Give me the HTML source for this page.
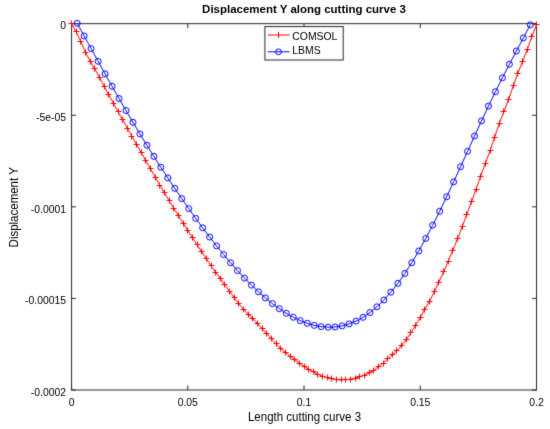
<!DOCTYPE html>
<html><head><meta charset="utf-8"><style>
html,body{margin:0;padding:0;background:#fff;}
body{width:550px;height:429px;overflow:hidden;}
svg{display:block;font-family:"Liberation Sans",sans-serif;font-size:10.4px;}
</style></head><body>
<svg width="550" height="429" viewBox="0 0 550 429">
<defs>
<filter id="bl" x="0" y="0" width="550" height="429" filterUnits="userSpaceOnUse" color-interpolation-filters="sRGB"><feConvolveMatrix order="3" kernelMatrix="1 6 1 6 36 6 1 6 1" divisor="64" edgeMode="duplicate" preserveAlpha="false"/></filter>
<filter id="tb" x="0" y="0" width="550" height="429" filterUnits="userSpaceOnUse" color-interpolation-filters="sRGB"><feConvolveMatrix order="3" kernelMatrix="1 10 1 10 100 10 1 10 1" divisor="144" edgeMode="duplicate" preserveAlpha="false"/></filter>
</defs>
<rect width="550" height="429" fill="#fff"/>
<g filter="url(#bl)">
<rect x="71.56" y="23.65" width="464.94" height="366.35" fill="none" stroke="#262626" stroke-width="1"/>
<path d="M71.56 390V385.5M71.56 23.65V28.15M187.8 390V385.5M187.8 23.65V28.15M304.03 390V385.5M304.03 23.65V28.15M420.26 390V385.5M420.26 23.65V28.15M536.5 390V385.5M536.5 23.65V28.15M71.56 23.65H76.06M536.5 23.65H532M71.56 115.24H76.06M536.5 115.24H532M71.56 206.82H76.06M536.5 206.82H532M71.56 298.41H76.06M536.5 298.41H532M71.56 390H76.06M536.5 390H532" stroke="#262626" stroke-width="1" fill="none"/>
<polyline points="71.5,23.65 76.15,31.88 80.8,41.42 85.45,52.34 90.1,61.11 94.75,68.9 99.4,77.32 104.05,86.08 108.7,94.71 113.35,103.19 118,111.57 122.65,119.87 127.3,128.12 131.95,136.32 136.6,144.51 141.25,152.68 145.9,160.84 150.55,168.97 155.2,177.06 159.85,185.08 164.5,192.99 169.15,200.74 173.8,208.34 178.45,215.79 183.1,223.1 187.75,230.33 192.4,237.51 197.05,244.7 201.7,251.85 206.35,258.91 211,265.75 215.65,272.31 220.3,278.66 224.95,284.99 229.6,291.4 234.25,297.76 238.9,303.76 243.55,309.19 248.2,314.11 252.85,318.82 257.5,323.62 262.15,328.58 266.8,333.6 271.45,338.65 276.1,343.79 280.75,348.43 285.4,352.42 290.05,356.12 294.7,359.66 299.35,363.05 304,366.26 308.65,369.23 313.3,371.91 317.95,374.26 322.6,376.23 327.25,377.79 331.9,378.94 336.55,379.65 341.2,379.92 345.85,379.76 350.5,379.17 355.15,378.17 359.8,376.79 364.45,375.06 369.1,372.94 373.75,370.32 378.4,366.99 383.05,363.03 387.7,358.97 392.35,354.94 397,350.53 401.65,345.46 406.3,339.56 410.95,332.81 415.6,325.32 420.25,317.35 424.9,309.22 429.55,301.08 434.2,291.98 438.85,282.1 443.5,271.95 448.15,261.39 452.8,250.38 457.45,238.89 462.1,226.94 466.75,214.59 471.4,201.91 476.05,189.03 480.7,176.12 485.35,163.37 490,150.86 494.65,137.07 499.3,123.36 503.95,111.65 508.6,99.4 513.25,85.97 517.9,73.18 522.55,61.43 527.2,49.58 531.85,36.88 536.5,24.6" fill="none" stroke="#ff0000" stroke-width="1"/>
<path d="M68.5 23.5h6M71.5 20.5v6M73.5 31.5h6M76.5 28.5v6M77.5 41.5h6M80.5 38.5v6M82.5 52.5h6M85.5 49.5v6M87.5 61.5h6M90.5 58.5v6M91.5 68.5h6M94.5 65.5v6M96.5 77.5h6M99.5 74.5v6M101.5 86.5h6M104.5 83.5v6M105.5 94.5h6M108.5 91.5v6M110.5 103.5h6M113.5 100.5v6M115.5 111.5h6M118.5 108.5v6M119.5 119.5h6M122.5 116.5v6M124.5 128.5h6M127.5 125.5v6M128.5 136.5h6M131.5 133.5v6M133.5 144.5h6M136.5 141.5v6M138.5 152.5h6M141.5 149.5v6M142.5 160.5h6M145.5 157.5v6M147.5 168.5h6M150.5 165.5v6M152.5 177.5h6M155.5 174.5v6M156.5 185.5h6M159.5 182.5v6M161.5 192.5h6M164.5 189.5v6M166.5 200.5h6M169.5 197.5v6M170.5 208.5h6M173.5 205.5v6M175.5 215.5h6M178.5 212.5v6M180.5 223.5h6M183.5 220.5v6M184.5 230.5h6M187.5 227.5v6M189.5 237.5h6M192.5 234.5v6M194.5 244.5h6M197.5 241.5v6M198.5 251.5h6M201.5 248.5v6M203.5 258.5h6M206.5 255.5v6M208.5 265.5h6M211.5 262.5v6M212.5 272.5h6M215.5 269.5v6M217.5 278.5h6M220.5 275.5v6M221.5 284.5h6M224.5 281.5v6M226.5 291.5h6M229.5 288.5v6M231.5 297.5h6M234.5 294.5v6M235.5 303.5h6M238.5 300.5v6M240.5 309.5h6M243.5 306.5v6M245.5 314.5h6M248.5 311.5v6M249.5 318.5h6M252.5 315.5v6M254.5 323.5h6M257.5 320.5v6M259.5 328.5h6M262.5 325.5v6M263.5 333.5h6M266.5 330.5v6M268.5 338.5h6M271.5 335.5v6M273.5 343.5h6M276.5 340.5v6M277.5 348.5h6M280.5 345.5v6M282.5 352.5h6M285.5 349.5v6M287.5 356.5h6M290.5 353.5v6M291.5 359.5h6M294.5 356.5v6M296.5 363.5h6M299.5 360.5v6M301.5 366.5h6M304.5 363.5v6M305.5 369.5h6M308.5 366.5v6M310.5 371.5h6M313.5 368.5v6M314.5 374.5h6M317.5 371.5v6M319.5 376.5h6M322.5 373.5v6M324.5 377.5h6M327.5 374.5v6M328.5 378.5h6M331.5 375.5v6M333.5 379.5h6M336.5 376.5v6M338.5 379.5h6M341.5 376.5v6M342.5 379.5h6M345.5 376.5v6M347.5 379.5h6M350.5 376.5v6M352.5 378.5h6M355.5 375.5v6M356.5 376.5h6M359.5 373.5v6M361.5 375.5h6M364.5 372.5v6M366.5 372.5h6M369.5 369.5v6M370.5 370.5h6M373.5 367.5v6M375.5 366.5h6M378.5 363.5v6M380.5 363.5h6M383.5 360.5v6M384.5 358.5h6M387.5 355.5v6M389.5 354.5h6M392.5 351.5v6M393.5 350.5h6M396.5 347.5v6M398.5 345.5h6M401.5 342.5v6M403.5 339.5h6M406.5 336.5v6M407.5 332.5h6M410.5 329.5v6M412.5 325.5h6M415.5 322.5v6M417.5 317.5h6M420.5 314.5v6M421.5 309.5h6M424.5 306.5v6M426.5 301.5h6M429.5 298.5v6M431.5 291.5h6M434.5 288.5v6M435.5 282.5h6M438.5 279.5v6M440.5 271.5h6M443.5 268.5v6M445.5 261.5h6M448.5 258.5v6M449.5 250.5h6M452.5 247.5v6M454.5 238.5h6M457.5 235.5v6M459.5 226.5h6M462.5 223.5v6M463.5 214.5h6M466.5 211.5v6M468.5 201.5h6M471.5 198.5v6M473.5 189.5h6M476.5 186.5v6M477.5 176.5h6M480.5 173.5v6M482.5 163.5h6M485.5 160.5v6M487.5 150.5h6M490.5 147.5v6M491.5 137.5h6M494.5 134.5v6M496.5 123.5h6M499.5 120.5v6M500.5 111.5h6M503.5 108.5v6M505.5 99.5h6M508.5 96.5v6M510.5 85.5h6M513.5 82.5v6M514.5 73.5h6M517.5 70.5v6M519.5 61.5h6M522.5 58.5v6M524.5 49.5h6M527.5 46.5v6M528.5 36.5h6M531.5 33.5v6M533.5 24.5h6M536.5 21.5v6" fill="none" stroke="#ff0000" stroke-width="1"/>
<polyline points="77.2,23.3 84.17,35.96 91.14,48.66 98.11,61.31 105.08,73.87 112.05,86.29 119.02,98.52 126,110.54 132.97,122.34 139.94,133.9 146.91,145.24 153.88,156.35 160.85,167.24 167.82,177.92 174.79,188.38 181.76,198.61 188.73,208.61 195.7,218.36 202.67,227.84 209.64,237.05 216.62,245.95 223.59,254.52 230.56,262.75 237.53,270.62 244.5,278.09 251.47,285.15 258.44,291.77 265.41,297.92 272.38,303.57 279.35,308.69 286.32,313.27 293.29,317.25 300.26,320.62 307.24,323.33 314.21,325.36 321.18,326.66 328.15,327.21 335.12,326.97 342.09,325.9 349.06,323.96 356.03,321.12 363,317.34 369.97,312.58 376.94,306.8 383.91,300 390.88,292.17 397.86,283.32 404.83,273.48 411.8,262.69 418.77,250.99 425.74,238.46 432.71,225.19 439.68,211.26 446.65,196.78 453.62,181.87 460.59,166.68 467.56,151.34 474.53,136.02 481.5,120.9 488.48,106.1 495.45,91.73 502.42,77.79 509.39,64.26 516.36,51.02 523.33,37.91 530.3,24.8" fill="none" stroke="#0000ff" stroke-width="1"/>
<path d="M74.2 23.3a3.0 3.0 0 1 0 6 0a3.0 3.0 0 1 0 -6 0M81.17 35.96a3.0 3.0 0 1 0 6 0a3.0 3.0 0 1 0 -6 0M88.14 48.66a3.0 3.0 0 1 0 6 0a3.0 3.0 0 1 0 -6 0M95.11 61.31a3.0 3.0 0 1 0 6 0a3.0 3.0 0 1 0 -6 0M102.08 73.87a3.0 3.0 0 1 0 6 0a3.0 3.0 0 1 0 -6 0M109.05 86.29a3.0 3.0 0 1 0 6 0a3.0 3.0 0 1 0 -6 0M116.02 98.52a3.0 3.0 0 1 0 6 0a3.0 3.0 0 1 0 -6 0M123 110.54a3.0 3.0 0 1 0 6 0a3.0 3.0 0 1 0 -6 0M129.97 122.34a3.0 3.0 0 1 0 6 0a3.0 3.0 0 1 0 -6 0M136.94 133.9a3.0 3.0 0 1 0 6 0a3.0 3.0 0 1 0 -6 0M143.91 145.24a3.0 3.0 0 1 0 6 0a3.0 3.0 0 1 0 -6 0M150.88 156.35a3.0 3.0 0 1 0 6 0a3.0 3.0 0 1 0 -6 0M157.85 167.24a3.0 3.0 0 1 0 6 0a3.0 3.0 0 1 0 -6 0M164.82 177.92a3.0 3.0 0 1 0 6 0a3.0 3.0 0 1 0 -6 0M171.79 188.38a3.0 3.0 0 1 0 6 0a3.0 3.0 0 1 0 -6 0M178.76 198.61a3.0 3.0 0 1 0 6 0a3.0 3.0 0 1 0 -6 0M185.73 208.61a3.0 3.0 0 1 0 6 0a3.0 3.0 0 1 0 -6 0M192.7 218.36a3.0 3.0 0 1 0 6 0a3.0 3.0 0 1 0 -6 0M199.67 227.84a3.0 3.0 0 1 0 6 0a3.0 3.0 0 1 0 -6 0M206.64 237.05a3.0 3.0 0 1 0 6 0a3.0 3.0 0 1 0 -6 0M213.62 245.95a3.0 3.0 0 1 0 6 0a3.0 3.0 0 1 0 -6 0M220.59 254.52a3.0 3.0 0 1 0 6 0a3.0 3.0 0 1 0 -6 0M227.56 262.75a3.0 3.0 0 1 0 6 0a3.0 3.0 0 1 0 -6 0M234.53 270.62a3.0 3.0 0 1 0 6 0a3.0 3.0 0 1 0 -6 0M241.5 278.09a3.0 3.0 0 1 0 6 0a3.0 3.0 0 1 0 -6 0M248.47 285.15a3.0 3.0 0 1 0 6 0a3.0 3.0 0 1 0 -6 0M255.44 291.77a3.0 3.0 0 1 0 6 0a3.0 3.0 0 1 0 -6 0M262.41 297.92a3.0 3.0 0 1 0 6 0a3.0 3.0 0 1 0 -6 0M269.38 303.57a3.0 3.0 0 1 0 6 0a3.0 3.0 0 1 0 -6 0M276.35 308.69a3.0 3.0 0 1 0 6 0a3.0 3.0 0 1 0 -6 0M283.32 313.27a3.0 3.0 0 1 0 6 0a3.0 3.0 0 1 0 -6 0M290.29 317.25a3.0 3.0 0 1 0 6 0a3.0 3.0 0 1 0 -6 0M297.26 320.62a3.0 3.0 0 1 0 6 0a3.0 3.0 0 1 0 -6 0M304.24 323.33a3.0 3.0 0 1 0 6 0a3.0 3.0 0 1 0 -6 0M311.21 325.36a3.0 3.0 0 1 0 6 0a3.0 3.0 0 1 0 -6 0M318.18 326.66a3.0 3.0 0 1 0 6 0a3.0 3.0 0 1 0 -6 0M325.15 327.21a3.0 3.0 0 1 0 6 0a3.0 3.0 0 1 0 -6 0M332.12 326.97a3.0 3.0 0 1 0 6 0a3.0 3.0 0 1 0 -6 0M339.09 325.9a3.0 3.0 0 1 0 6 0a3.0 3.0 0 1 0 -6 0M346.06 323.96a3.0 3.0 0 1 0 6 0a3.0 3.0 0 1 0 -6 0M353.03 321.12a3.0 3.0 0 1 0 6 0a3.0 3.0 0 1 0 -6 0M360 317.34a3.0 3.0 0 1 0 6 0a3.0 3.0 0 1 0 -6 0M366.97 312.58a3.0 3.0 0 1 0 6 0a3.0 3.0 0 1 0 -6 0M373.94 306.8a3.0 3.0 0 1 0 6 0a3.0 3.0 0 1 0 -6 0M380.91 300a3.0 3.0 0 1 0 6 0a3.0 3.0 0 1 0 -6 0M387.88 292.17a3.0 3.0 0 1 0 6 0a3.0 3.0 0 1 0 -6 0M394.86 283.32a3.0 3.0 0 1 0 6 0a3.0 3.0 0 1 0 -6 0M401.83 273.48a3.0 3.0 0 1 0 6 0a3.0 3.0 0 1 0 -6 0M408.8 262.69a3.0 3.0 0 1 0 6 0a3.0 3.0 0 1 0 -6 0M415.77 250.99a3.0 3.0 0 1 0 6 0a3.0 3.0 0 1 0 -6 0M422.74 238.46a3.0 3.0 0 1 0 6 0a3.0 3.0 0 1 0 -6 0M429.71 225.19a3.0 3.0 0 1 0 6 0a3.0 3.0 0 1 0 -6 0M436.68 211.26a3.0 3.0 0 1 0 6 0a3.0 3.0 0 1 0 -6 0M443.65 196.78a3.0 3.0 0 1 0 6 0a3.0 3.0 0 1 0 -6 0M450.62 181.87a3.0 3.0 0 1 0 6 0a3.0 3.0 0 1 0 -6 0M457.59 166.68a3.0 3.0 0 1 0 6 0a3.0 3.0 0 1 0 -6 0M464.56 151.34a3.0 3.0 0 1 0 6 0a3.0 3.0 0 1 0 -6 0M471.53 136.02a3.0 3.0 0 1 0 6 0a3.0 3.0 0 1 0 -6 0M478.5 120.9a3.0 3.0 0 1 0 6 0a3.0 3.0 0 1 0 -6 0M485.48 106.1a3.0 3.0 0 1 0 6 0a3.0 3.0 0 1 0 -6 0M492.45 91.73a3.0 3.0 0 1 0 6 0a3.0 3.0 0 1 0 -6 0M499.42 77.79a3.0 3.0 0 1 0 6 0a3.0 3.0 0 1 0 -6 0M506.39 64.26a3.0 3.0 0 1 0 6 0a3.0 3.0 0 1 0 -6 0M513.36 51.02a3.0 3.0 0 1 0 6 0a3.0 3.0 0 1 0 -6 0M520.33 37.91a3.0 3.0 0 1 0 6 0a3.0 3.0 0 1 0 -6 0M527.3 24.8a3.0 3.0 0 1 0 6 0a3.0 3.0 0 1 0 -6 0" fill="none" stroke="#0000ff" stroke-width="1"/>
<rect x="264.9" y="26.6" width="78.3" height="33.4" fill="#fff" stroke="#262626" stroke-width="1"/>
<path d="M267.8 35H289.5M278.5 31.8v6.4" stroke="#ff0000" stroke-width="1" fill="none"/>
<path d="M267.8 51.8H289.5M275.6 51.8a2.9 2.9 0 1 0 5.8 0a2.9 2.9 0 1 0 -5.8 0" stroke="#0000ff" stroke-width="1" fill="none"/>
</g>
<g fill="#000" filter="url(#tb)">
<text x="71.56" y="405.6" text-anchor="middle">0</text>
<text x="187.8" y="405.6" text-anchor="middle">0.05</text>
<text x="304.03" y="405.6" text-anchor="middle">0.1</text>
<text x="420.26" y="405.6" text-anchor="middle">0.15</text>
<text x="536.5" y="405.6" text-anchor="middle">0.2</text>
<text x="66.1" y="29.35" text-anchor="end">0</text>
<text x="66.1" y="120.94" text-anchor="end">-5e-05</text>
<text x="66.1" y="212.52" text-anchor="end">-0.0001</text>
<text x="66.1" y="304.11" text-anchor="end">-0.00015</text>
<text x="66.1" y="395.7" text-anchor="end">-0.0002</text>
<text x="292.3" y="40.4" font-size="10.4">COMSOL</text>
<text x="292.3" y="53.8" font-size="10.4">LBMS</text>
<text transform="translate(304 13) scale(1 1.03)" text-anchor="middle" font-weight="bold" font-size="11.5">Displacement Y along cutting curve 3</text>
<text transform="translate(304.5 420.5) scale(1 1.045)" text-anchor="middle" font-size="11.5">Length cutting curve 3</text>
<text transform="translate(17.8 207.3) rotate(-90) scale(1 1.045)" text-anchor="middle" font-size="11.5">Displacement Y</text>
</g>
</svg>
</body></html>
